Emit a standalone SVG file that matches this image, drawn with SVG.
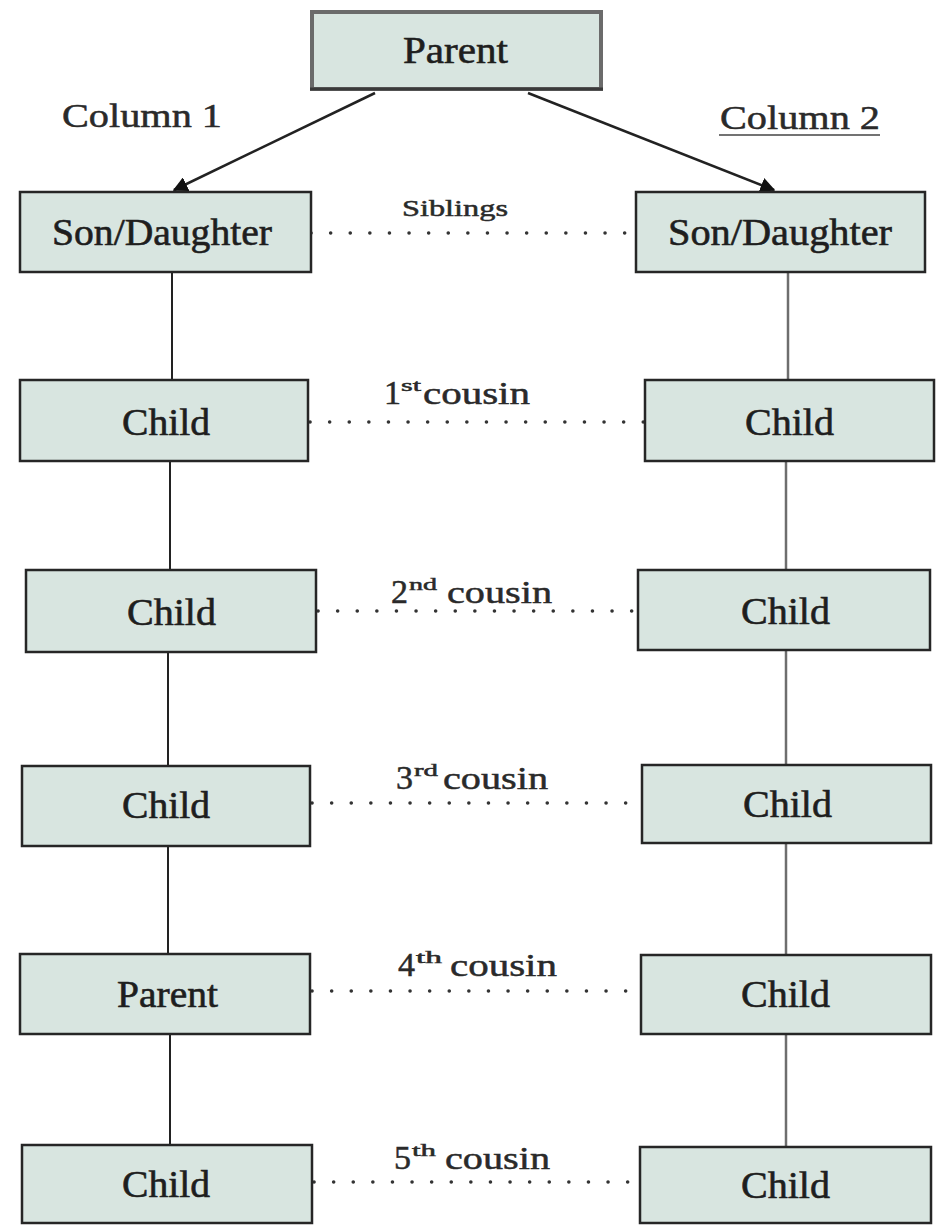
<svg xmlns="http://www.w3.org/2000/svg" width="939" height="1225" viewBox="0 0 939 1225">
<defs>
<style>
.box{fill:#d8e5e0;stroke:#262626;stroke-width:2.5}
.top{fill:#d8e5e0;stroke:#6b6b6b;stroke-width:4}
.lbl{font-family:"Liberation Serif","Times New Roman",serif;font-size:38px;fill:#1e1e1e;stroke:#1e1e1e;stroke-width:0.6}
.cap{font-family:"Liberation Serif","Times New Roman",serif;fill:#2a2a2a;stroke:#2a2a2a;stroke-width:0.5}
.vl{stroke:#222;stroke-width:2;fill:none}
.vr{stroke:#6e6e6e;stroke-width:2.5;fill:none}
.dot{stroke:#333;stroke-width:3.5;stroke-linecap:round;stroke-dasharray:0.1 19.5;fill:none}
.arr{stroke:#222;stroke-width:2.5;fill:none}
</style>
<marker id="ah" viewBox="0 0 10 10" refX="9" refY="5" markerWidth="6" markerHeight="6" orient="auto" markerUnits="strokeWidth">
<path d="M0,0 L10,5 L0,10 z" fill="#111"/>
</marker>
</defs>
<rect width="939" height="1225" fill="#ffffff"/>

<g id="connectors">
<line class="arr" x1="375" y1="93" x2="174" y2="190" marker-end="url(#ah)"/>
<line class="arr" x1="528" y1="93" x2="774" y2="190" marker-end="url(#ah)"/>
<line class="vl" x1="172" y1="272" x2="172" y2="380"/>
<line class="vl" x1="170" y1="461" x2="170" y2="570"/>
<line class="vl" x1="168" y1="652" x2="168" y2="766"/>
<line class="vl" x1="168" y1="846" x2="168" y2="954"/>
<line class="vl" x1="170" y1="1034" x2="170" y2="1145"/>
<line class="vr" x1="788" y1="272" x2="788" y2="380"/>
<line class="vr" x1="786" y1="461" x2="786" y2="570"/>
<line class="vr" x1="786" y1="650" x2="786" y2="765"/>
<line class="vr" x1="786" y1="843" x2="786" y2="955"/>
<line class="vr" x1="786" y1="1034" x2="786" y2="1147"/>
<line class="dot" x1="311" y1="233" x2="636" y2="233"/>
<line class="dot" x1="310" y1="422" x2="645" y2="422"/>
<line class="dot" x1="318" y1="611" x2="638" y2="611"/>
<line class="dot" x1="312" y1="803" x2="642" y2="803"/>
<line class="dot" x1="312" y1="991" x2="641" y2="991"/>
<line class="dot" x1="314" y1="1182" x2="640" y2="1182"/>
</g>

<g id="parent-top">
<rect class="top" x="312" y="12" width="289" height="77"/>
<line x1="310" y1="89" x2="603" y2="89" stroke="#3a3a3a" stroke-width="3"/>
<text class="lbl" x="403" y="63" textLength="105" lengthAdjust="spacingAndGlyphs">Parent</text>
</g>

<g id="column-labels">
<text class="cap" x="62" y="127" font-size="34" textLength="160" lengthAdjust="spacingAndGlyphs">Column 1</text>
<text class="cap" x="720" y="129" font-size="34" textLength="160" lengthAdjust="spacingAndGlyphs">Column 2</text>
<line x1="719" y1="135" x2="880" y2="135" stroke="#444" stroke-width="1.5"/>
</g>

<g id="son-left">
<rect class="box" x="20" y="192" width="291" height="80"/>
<text class="lbl" x="52" y="245" textLength="220" lengthAdjust="spacingAndGlyphs">Son/Daughter</text>
</g>
<g id="son-right">
<rect class="box" x="636" y="192" width="289" height="80"/>
<text class="lbl" x="668" y="245" textLength="224" lengthAdjust="spacingAndGlyphs">Son/Daughter</text>
</g>

<g id="left-1">
<rect class="box" x="20" y="380" width="288" height="81"/>
<text class="lbl" x="122" y="435" textLength="88" lengthAdjust="spacingAndGlyphs">Child</text>
</g>
<g id="left-2">
<rect class="box" x="26" y="570" width="290" height="82"/>
<text class="lbl" x="127" y="625" textLength="89" lengthAdjust="spacingAndGlyphs">Child</text>
</g>
<g id="left-3">
<rect class="box" x="22" y="766" width="288" height="80"/>
<text class="lbl" x="122" y="818" textLength="88" lengthAdjust="spacingAndGlyphs">Child</text>
</g>
<g id="left-4">
<rect class="box" x="20" y="954" width="290" height="80"/>
<text class="lbl" x="117" y="1007" textLength="101" lengthAdjust="spacingAndGlyphs">Parent</text>
</g>
<g id="left-5">
<rect class="box" x="22" y="1145" width="290" height="78"/>
<text class="lbl" x="122" y="1197" textLength="88" lengthAdjust="spacingAndGlyphs">Child</text>
</g>

<g id="right-1">
<rect class="box" x="645" y="380" width="289" height="81"/>
<text class="lbl" x="745" y="435" textLength="89" lengthAdjust="spacingAndGlyphs">Child</text>
</g>
<g id="right-2">
<rect class="box" x="638" y="570" width="292" height="80"/>
<text class="lbl" x="741" y="624" textLength="89" lengthAdjust="spacingAndGlyphs">Child</text>
</g>
<g id="right-3">
<rect class="box" x="642" y="765" width="289" height="78"/>
<text class="lbl" x="743" y="817" textLength="89" lengthAdjust="spacingAndGlyphs">Child</text>
</g>
<g id="right-4">
<rect class="box" x="641" y="955" width="290" height="79"/>
<text class="lbl" x="741" y="1007" textLength="89" lengthAdjust="spacingAndGlyphs">Child</text>
</g>
<g id="right-5">
<rect class="box" x="640" y="1147" width="291" height="76"/>
<text class="lbl" x="741" y="1198" textLength="89" lengthAdjust="spacingAndGlyphs">Child</text>
</g>

<g id="relation-labels">
<text class="cap" x="402" y="216" font-size="24" textLength="106" lengthAdjust="spacingAndGlyphs">Siblings</text>

<text class="cap" x="384" y="404" font-size="34">1</text>
<text class="cap" x="401" y="391" font-size="17" textLength="20" lengthAdjust="spacingAndGlyphs">st</text>
<text class="cap" x="423" y="404" font-size="32" textLength="107" lengthAdjust="spacingAndGlyphs">cousin</text>

<text class="cap" x="391" y="603" font-size="34">2</text>
<text class="cap" x="409" y="590" font-size="17" textLength="28" lengthAdjust="spacingAndGlyphs">nd</text>
<text class="cap" x="447" y="603" font-size="32" textLength="105" lengthAdjust="spacingAndGlyphs">cousin</text>

<text class="cap" x="396" y="789" font-size="34">3</text>
<text class="cap" x="414" y="776" font-size="17" textLength="24" lengthAdjust="spacingAndGlyphs">rd</text>
<text class="cap" x="443" y="789" font-size="32" textLength="105" lengthAdjust="spacingAndGlyphs">cousin</text>

<text class="cap" x="398" y="976" font-size="34">4</text>
<text class="cap" x="416" y="963" font-size="17" textLength="26" lengthAdjust="spacingAndGlyphs">th</text>
<text class="cap" x="450" y="976" font-size="32" textLength="107" lengthAdjust="spacingAndGlyphs">cousin</text>

<text class="cap" x="394" y="1169" font-size="34">5</text>
<text class="cap" x="412" y="1156" font-size="17" textLength="24" lengthAdjust="spacingAndGlyphs">th</text>
<text class="cap" x="445" y="1169" font-size="32" textLength="105" lengthAdjust="spacingAndGlyphs">cousin</text>
</g>
</svg>
